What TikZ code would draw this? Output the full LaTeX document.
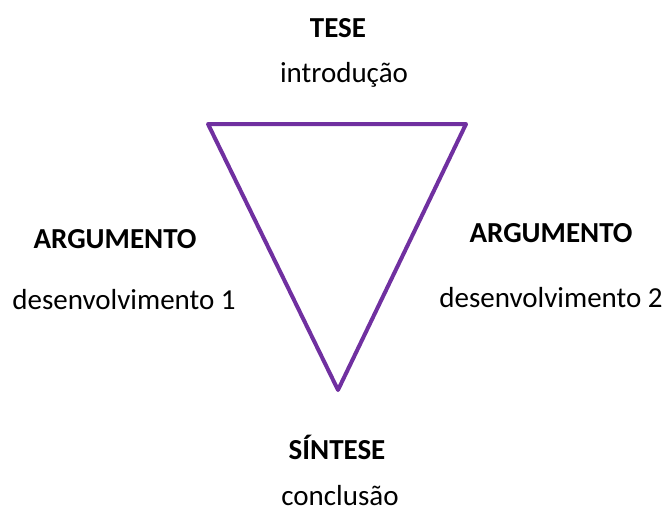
\documentclass[tikz,border=0pt]{standalone}
\usepackage{fontspec}
\setmainfont{Carlito}
\definecolor{tripurple}{HTML}{7030A0}
\begin{document}
\begin{tikzpicture}[x=1pt,y=-1pt,
  lbl/.style={font=\fontsize{29}{34}\selectfont, inner sep=0pt, anchor=center},
  ttl/.style={inner sep=0pt, anchor=center, font=\fontsize{29}{34}\selectfont\bfseries},
  side/.style={draw=tripurple, line width=4pt, line join=round, line cap=round}]
\useasboundingbox (0,0) rectangle (668,512);
\coordinate (tl) at (208,124);
\coordinate (tr) at (466,124);
\coordinate (bt) at (338,390);
\draw[side] (tl) -- (tr) -- (bt) -- cycle;
\node[ttl] (tese) at (338,28) {TESE};
\node[lbl] (intro) at (344,75) {introdução};
\node[ttl] (arg1) at (115,239) {ARGUMENTO};
\node[lbl] (des1) at (124,300) {desenvolvimento 1};
\node[ttl] (arg2) at (551,233) {ARGUMENTO};
\node[lbl] (des2) at (551,298) {desenvolvimento 2};
\node[ttl] (sint) at (337,447) {SÍNTESE};
\node[lbl] (conc) at (340,496) {conclusão};
\end{tikzpicture}
\end{document}
